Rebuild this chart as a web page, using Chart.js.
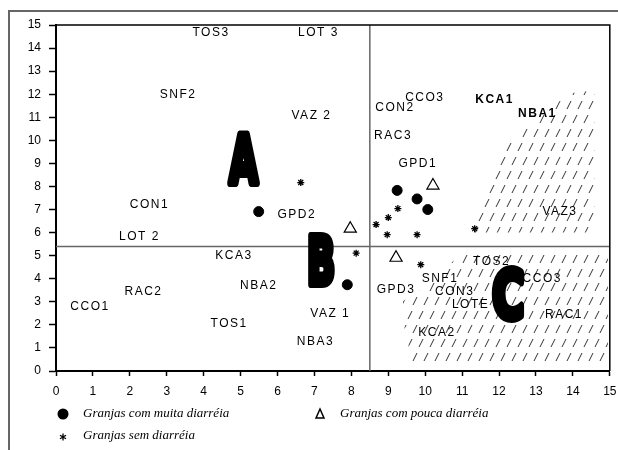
<!DOCTYPE html>
<html>
<head>
<meta charset="utf-8">
<script src="https://cdn.jsdelivr.net/npm/chart.js@4.4.0/dist/chart.umd.min.js"></script>
<style>
  body { margin: 0; background: #fff; }
  #wrap { position: relative; width: 618px; height: 450px; overflow: hidden; }
  #frame { position: absolute; left: 8px; top: 10px; width: 700px; height: 500px;
           border-top: 2px solid #666; border-left: 2px solid #666; }
  #chart { position: absolute; left: 0; top: 0; }
</style>
</head>
<body>
<div id="wrap">
  <div id="frame"></div>
  <canvas id="chart" width="618" height="450"></canvas>
</div>
<script>
// farms with a lot of diarrhoea (filled circles)
const muitaX = [5.49, 9.24, 9.78, 10.07, 7.89];
const muitaY = [6.91, 7.83, 7.46, 7.00, 3.74];
// farms with little diarrhoea (open triangles)
const poucaX = [7.97, 9.21, 10.21];
const poucaY = [6.17, 4.91, 8.04];
// farms without diarrhoea (asterisks)
const semX = [6.63, 8.13, 8.67, 9.00, 9.26, 8.97, 9.78, 11.34, 9.88];
const semY = [8.17, 5.11, 6.35, 6.65, 7.04, 5.91, 5.91, 6.17, 4.61];

// farm code labels
const farmNames = ['TOS3', 'LOT 3', 'SNF2', 'VAZ 2', 'CCO3', 'CON2', 'KCA1', 'NBA1', 'RAC3', 'GPD1',
                   'CON1', 'GPD2', 'LOT 2', 'KCA3', 'NBA2', 'RAC2', 'CCO1', 'TOS1', 'VAZ 1', 'NBA3',
                   'VAZ3', 'TOS2', 'SNF1', 'CCO3', 'GPD3', 'CON3', 'LOTE', 'RAC1', 'KCA2'];
const farmX = [4.20, 7.11, 3.31, 6.92, 9.99, 9.18, 11.88, 13.04, 9.13, 9.80,
               2.53, 6.52, 2.26, 4.82, 5.49, 2.37, 0.92, 4.69, 7.43, 7.03,
               13.65, 11.80, 10.40, 13.17, 9.21, 10.80, 11.23, 13.76, 10.32];
const farmY = [14.65, 14.65, 12.00, 11.09, 11.87, 11.43, 11.78, 11.17, 10.22, 9.00,
               7.22, 6.78, 5.83, 5.00, 3.70, 3.43, 2.78, 2.04, 2.48, 1.26,
               6.91, 4.74, 4.00, 4.00, 3.52, 3.43, 2.87, 2.43, 1.65];
const boldNames = ['KCA1', 'NBA1'];

// group letters
const groupLetters = ['A', 'B', 'C'];
const groupX = [5.08, 7.18, 12.25];
const groupY = [9.00, 4.61, 3.13];

// hatched zones
const hatchUpperX = [13.92, 14.60, 14.60, 11.28, 11.63, 12.23, 12.77, 13.92];
const hatchUpperY = [12.04, 12.17, 6.00, 6.00, 8.26, 9.78, 10.65, 12.04];
const hatchLowerX = [11.15, 14.95, 14.95, 9.67, 9.40, 9.40, 10.07, 10.61, 11.15];
const hatchLowerY = [5.26, 5.26, 0.22, 0.22, 2.17, 3.04, 3.70, 4.57, 5.26];

// split lines
const splitX = 8.5;
const splitY = 5.4;

const legendItems = [
  { style: 'circle', text: 'Granjas com muita diarréia', x: 63, y: 414 },
  { style: 'triangle', text: 'Granjas com pouca diarréia', x: 320, y: 414 },
  { style: 'star', text: 'Granjas sem diarréia', x: 63, y: 436 }
];

const pts = (xs, ys) => xs.map((x, i) => ({ x: x, y: ys[i] }));

const canvas = document.getElementById('chart');
const ctx = canvas.getContext('2d');

function hatchPattern() {
  const c = document.createElement('canvas');
  c.width = 22; c.height = 28;
  const g = c.getContext('2d');
  g.strokeStyle = '#333';
  g.lineWidth = 1;
  g.beginPath();
  [[1, 11], [12, 11], [6, 25], [17, 25]].forEach(([x, y]) => {
    g.moveTo(x, y);
    g.lineTo(x + 4, y - 8);
  });
  g.stroke();
  return ctx.createPattern(c, 'repeat');
}
const hatch = hatchPattern();

const labelsPlugin = {
  id: 'farmLabels',
  afterDatasetsDraw(chart) {
    const { ctx, scales } = chart;
    ctx.save();
    ctx.fillStyle = '#000';
    ctx.textAlign = 'center';
    ctx.textBaseline = 'middle';
    ctx.letterSpacing = '1.5px';
    farmNames.forEach((name, i) => {
      const bold = boldNames.includes(name) ? 'bold ' : '';
      ctx.font = bold + '12px "Liberation Sans", Arial, sans-serif';
      ctx.fillText(name, scales.x.getPixelForValue(farmX[i]), scales.y.getPixelForValue(farmY[i]));
    });
    ctx.letterSpacing = '0px';
    // big group letters
    ctx.font = 'bold 66px "DejaVu Sans", sans-serif';
    ctx.lineJoin = 'round';
    groupLetters.forEach((l, i) => {
      const px = scales.x.getPixelForValue(groupX[i]);
      const py = scales.y.getPixelForValue(groupY[i]);
      ctx.save();
      ctx.translate(px, py);
      ctx.scale(l === 'C' ? 0.66 : 0.56, 1);
      ctx.lineWidth = 8;
      ctx.strokeStyle = '#000';
      ctx.strokeText(l, 0, 2);
      ctx.fillText(l, 0, 2);
      ctx.restore();
    });
    ctx.restore();
  },
  afterDraw(chart) {
    const { ctx, chartArea } = chart;
    ctx.save();
    // box around the plot
    ctx.strokeStyle = '#000';
    ctx.lineWidth = 1.5;
    ctx.beginPath();
    ctx.moveTo(chartArea.left, chartArea.top);
    ctx.lineTo(chartArea.right, chartArea.top);
    ctx.lineTo(chartArea.right, chartArea.bottom);
    ctx.stroke();
    // legend
    legendItems.forEach(it => {
      ctx.fillStyle = '#000';
      ctx.strokeStyle = '#000';
      if (it.style === 'circle') {
        ctx.beginPath();
        ctx.arc(it.x, it.y, 5.5, 0, Math.PI * 2);
        ctx.fill();
      } else if (it.style === 'triangle') {
        ctx.lineWidth = 1.5;
        ctx.beginPath();
        ctx.moveTo(it.x, it.y - 5);
        ctx.lineTo(it.x + 4, it.y + 4);
        ctx.lineTo(it.x - 4, it.y + 4);
        ctx.closePath();
        ctx.stroke();
      } else {
        ctx.lineWidth = 1.3;
        ctx.beginPath();
        for (let a = 0; a < 3; a++) {
          const r = a * Math.PI / 3 + Math.PI / 2;
          ctx.moveTo(it.x + Math.cos(r) * 3.5, it.y + 1 + Math.sin(r) * 3.5);
          ctx.lineTo(it.x - Math.cos(r) * 3.5, it.y + 1 - Math.sin(r) * 3.5);
        }
        ctx.stroke();
      }
      ctx.font = 'italic 13px "Liberation Serif", "Times New Roman", serif';
      ctx.textAlign = 'left';
      ctx.textBaseline = 'middle';
      ctx.fillText(it.text, it.x + 20, it.y);
    });
    ctx.restore();
  }
};

new Chart(ctx, {
  type: 'scatter',
  data: {
    datasets: [
      {
        label: 'muita',
        data: pts(muitaX, muitaY),
        pointStyle: 'circle',
        pointRadius: 5,
        backgroundColor: '#000',
        borderColor: '#000',
        order: 1
      },
      {
        label: 'pouca',
        data: pts(poucaX, poucaY),
        pointStyle: 'triangle',
        pointRadius: 7,
        backgroundColor: '#fff',
        borderColor: '#000',
        borderWidth: 1.2,
        order: 1
      },
      {
        label: 'sem',
        data: pts(semX, semY),
        pointStyle: 'star',
        pointRadius: 3.5,
        borderColor: '#000',
        borderWidth: 1.3,
        order: 1
      },
      {
        label: 'splitH',
        data: [{ x: 0, y: splitY }, { x: 15, y: splitY }],
        showLine: true,
        pointRadius: 0,
        borderColor: '#666',
        borderWidth: 1.5,
        order: 5
      },
      {
        label: 'splitV',
        data: [{ x: splitX, y: 0 }, { x: splitX, y: 15 }],
        showLine: true,
        pointRadius: 0,
        borderColor: '#666',
        borderWidth: 1.5,
        order: 5
      },
      {
        label: 'hatchUpper',
        data: pts(hatchUpperX, hatchUpperY),
        showLine: true,
        fill: 'shape',
        pointRadius: 0,
        borderWidth: 0,
        borderColor: 'rgba(0,0,0,0)',
        backgroundColor: hatch,
        order: 10
      },
      {
        label: 'hatchLower',
        data: pts(hatchLowerX, hatchLowerY),
        showLine: true,
        fill: 'shape',
        pointRadius: 0,
        borderWidth: 0,
        borderColor: 'rgba(0,0,0,0)',
        backgroundColor: hatch,
        order: 10
      }
    ]
  },
  options: {
    responsive: false,
    animation: false,
    devicePixelRatio: 1,
    layout: { padding: { left: 0, right: 5, top: 25, bottom: 0 } },
    plugins: {
      legend: { display: false },
      tooltip: { enabled: false }
    },
    scales: {
      x: {
        type: 'linear',
        min: 0,
        max: 15,
        afterFit(scale) { scale.height = 79; scale.paddingLeft = 0; scale.paddingRight = 0; },
        ticks: {
          stepSize: 1,
          color: '#000',
          padding: 8,
          maxRotation: 0,
          font: { family: '"Liberation Sans", Arial, sans-serif', size: 12 }
        },
        grid: { drawOnChartArea: false, tickLength: 5, color: '#000', tickWidth: 1.5 },
        border: { color: '#000', width: 2 }
      },
      y: {
        type: 'linear',
        min: 0,
        max: 15,
        afterFit(scale) { scale.width = 56; scale.paddingTop = 0; scale.paddingBottom = 0; },
        ticks: {
          stepSize: 1,
          color: '#000',
          padding: 8,
          font: { family: '"Liberation Sans", Arial, sans-serif', size: 12 }
        },
        grid: { drawOnChartArea: false, tickLength: 7, color: '#000', tickWidth: 1.5 },
        border: { color: '#000', width: 2 }
      }
    }
  },
  plugins: [labelsPlugin]
});
</script>
</body>
</html>
